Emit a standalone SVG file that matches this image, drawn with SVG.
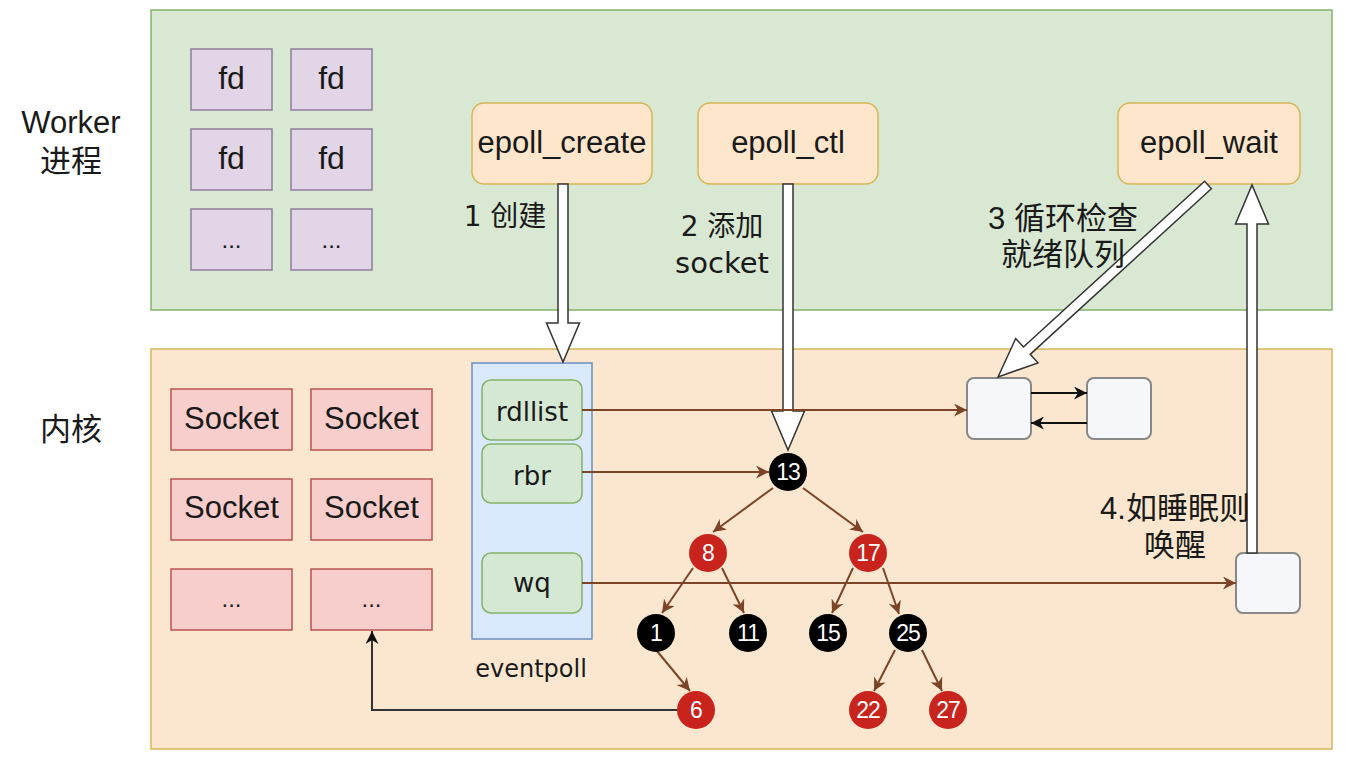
<svg xmlns="http://www.w3.org/2000/svg" width="1345" height="758" viewBox="0 0 1345 758">
<style>
.t{font-family:"Liberation Sans","Noto Sans CJK SC",sans-serif;fill:#1a1a1a;text-anchor:middle}
.c{font-family:"DejaVu Sans","Noto Sans CJK SC",sans-serif;fill:#1a1a1a;text-anchor:middle}
.fd{fill:#e1d5e7;stroke:#8f7d99;stroke-width:1.5}
.sk{fill:#f8cecc;stroke:#b85450;stroke-width:1.5}
.ep{fill:#fde6cb;stroke:#d6b656;stroke-width:1.5}
.gr{fill:#d5e8d4;stroke:#82b366;stroke-width:1.5}
.wb{fill:#f5f7fa;stroke:#888;stroke-width:2}
.rn{fill:#c8241d}
.bn{fill:#000}
.num{font-family:"Liberation Sans",sans-serif;font-size:23px;fill:#fff;text-anchor:middle;letter-spacing:-1px}
.br{stroke:#7b4427;stroke-width:2;fill:none}
.bk{stroke:#111;stroke-width:2;fill:none}
.fx{fill:#fff;stroke:#333;stroke-width:1.5}
</style>
<defs>
<marker id="ab" viewBox="0 0 10 10" refX="10" refY="5" markerWidth="13" markerHeight="13" markerUnits="userSpaceOnUse" orient="auto"><path d="M0,0 L10,5 L0,10 L3,5 Z" fill="#7b4427"/></marker>
<marker id="ak" viewBox="0 0 10 10" refX="10" refY="5" markerWidth="13" markerHeight="13" markerUnits="userSpaceOnUse" orient="auto"><path d="M0,0 L10,5 L0,10 L3,5 Z" fill="#111"/></marker>
</defs>
<rect width="1345" height="758" fill="#fff"/>

<g id="worker-area">
<rect x="151" y="10" width="1181" height="300" fill="#d9e8d3" stroke="#82b366" stroke-width="1.5"/>
<text class="t" x="71" y="133" font-size="31">Worker</text>
<text class="t" x="71" y="172" font-size="31">进程</text>
</g>
<g id="kernel-area">
<rect x="151" y="349" width="1181" height="400" fill="#fbe7cf" stroke="#d6b656" stroke-width="1.5"/>
<text class="t" x="71" y="440" font-size="31">内核</text>
</g>

<g id="fd-1"><rect class="fd" x="191" y="49" width="81" height="61"/><text class="t" x="231.5" y="89" font-size="32">fd</text></g>
<g id="fd-2"><rect class="fd" x="291" y="49" width="81" height="61"/><text class="t" x="331.5" y="89" font-size="32">fd</text></g>
<g id="fd-3"><rect class="fd" x="191" y="129" width="81" height="61"/><text class="t" x="231.5" y="169" font-size="32">fd</text></g>
<g id="fd-4"><rect class="fd" x="291" y="129" width="81" height="61"/><text class="t" x="331.5" y="169" font-size="32">fd</text></g>
<g id="fd-5"><rect class="fd" x="191" y="209" width="81" height="61"/><text class="t" x="231.5" y="248" font-size="24">...</text></g>
<g id="fd-6"><rect class="fd" x="291" y="209" width="81" height="61"/><text class="t" x="331.5" y="248" font-size="24">...</text></g>

<g id="epoll_create"><rect class="ep" x="472" y="103" width="180" height="81" rx="12"/><text class="t" x="562" y="153" font-size="31">epoll_create</text></g>
<g id="epoll_ctl"><rect class="ep" x="698" y="103" width="180" height="81" rx="12"/><text class="t" x="788" y="153" font-size="31">epoll_ctl</text></g>
<g id="epoll_wait"><rect class="ep" x="1118" y="103" width="182" height="81" rx="12"/><text class="t" x="1209" y="153" font-size="31">epoll_wait</text></g>

<g id="socket-1"><rect class="sk" x="171" y="389" width="121" height="61"/><text class="t" x="231.5" y="429" font-size="31">Socket</text></g>
<g id="socket-2"><rect class="sk" x="311" y="389" width="121" height="61"/><text class="t" x="371.5" y="429" font-size="31">Socket</text></g>
<g id="socket-3"><rect class="sk" x="171" y="479" width="121" height="61"/><text class="t" x="231.5" y="518" font-size="31">Socket</text></g>
<g id="socket-4"><rect class="sk" x="311" y="479" width="121" height="61"/><text class="t" x="371.5" y="518" font-size="31">Socket</text></g>
<g id="socket-5"><rect class="sk" x="171" y="569" width="121" height="61"/><text class="t" x="231.5" y="607" font-size="24">...</text></g>
<g id="socket-6"><rect class="sk" x="311" y="569" width="121" height="61"/><text class="t" x="371.5" y="607" font-size="24">...</text></g>

<g id="eventpoll">
<rect x="472" y="363" width="120" height="276" fill="#dae8fc" stroke="#6c8ebf" stroke-width="1.5"/>
<text class="c" x="531" y="677" font-size="24">eventpoll</text>
</g>
<g id="rdllist"><rect class="gr" x="482" y="380" width="100" height="60" rx="9"/><text class="c" x="532" y="421" font-size="26">rdllist</text></g>
<g id="rbr"><rect class="gr" x="482" y="444" width="100" height="59" rx="9"/><text class="c" x="532" y="485" font-size="26">rbr</text></g>
<g id="wq"><rect class="gr" x="482" y="553" width="100" height="60" rx="9"/><text class="c" x="532" y="592" font-size="26">wq</text></g>

<g id="ready-1"><rect class="wb" x="967" y="378" width="64" height="61" rx="7"/></g>
<g id="ready-2"><rect class="wb" x="1087" y="378" width="64" height="61" rx="7"/></g>
<g id="wait-entry"><rect class="wb" x="1236" y="553" width="64" height="60" rx="7"/></g>

<g id="connectors">
<path class="fx" d="M0,-5 H139 V-16.5 L178,0 L139,16.5 V5 H0 Z" transform="translate(563,184) rotate(90)"/>
<path class="fx" d="M0,-5 H227 V-16.5 L266,0 L227,16.5 V5 H0 Z" transform="translate(788,184) rotate(90)"/>
<path class="fx" d="M0,-5 H245.5 V-16.5 L284.5,0 L245.5,16.5 V5 H0 Z" transform="translate(1208,185) rotate(137.56)"/>
<path class="fx" d="M0,-5 H329 V-16.5 L368,0 L329,16.5 V5 H0 Z" transform="translate(1252,553) rotate(-90)"/>

<line class="br" x1="582" y1="410" x2="967" y2="410" marker-end="url(#ab)"/>
<line class="br" x1="582" y1="472" x2="769" y2="472" marker-end="url(#ab)"/>
<line class="br" x1="582" y1="583" x2="1236" y2="583" marker-end="url(#ab)"/>

<line class="bk" x1="1031" y1="393" x2="1087" y2="393" marker-end="url(#ak)"/>
<line class="bk" x1="1087" y1="423" x2="1031" y2="423" marker-end="url(#ak)"/>

<path class="br" d="M773,488 L713,532" marker-end="url(#ab)"/>
<path class="br" d="M803,488 L863,532" marker-end="url(#ab)"/>
<path class="br" d="M693,568 L662,613" marker-end="url(#ab)"/>
<path class="br" d="M722,568 L744,613" marker-end="url(#ab)"/>
<path class="br" d="M853,568 L832,613" marker-end="url(#ab)"/>
<path class="br" d="M883,568 L899,614" marker-end="url(#ab)"/>
<path class="br" d="M657,651 L690,691" marker-end="url(#ab)"/>
<path class="br" d="M895,650 L874,691" marker-end="url(#ab)"/>
<path class="br" d="M922,650 L942,691" marker-end="url(#ab)"/>

<path d="M677,710 H372 V631" fill="none" stroke="#333" stroke-width="2" marker-end="url(#ak)"/>

<text class="c" x="505" y="226" font-size="28">1 创建</text>
<text class="c" x="722" y="236" font-size="28">2 添加</text>
<text class="c" x="722" y="273" font-size="29">socket</text>
<text class="t" x="1063" y="229" font-size="31">3 循环检查</text>
<text class="t" x="1063" y="265" font-size="31">就绪队列</text>
<text class="t" x="1175" y="519" font-size="31">4.如睡眠则</text>
<text class="t" x="1175" y="556" font-size="31">唤醒</text>
</g>

<g id="node-13"><circle class="bn" cx="788" cy="472" r="19"/><text class="num" x="788" y="480">13</text></g>
<g id="node-8"><circle class="rn" cx="708" cy="553" r="19"/><text class="num" x="708" y="561">8</text></g>
<g id="node-17"><circle class="rn" cx="868" cy="553" r="19"/><text class="num" x="868" y="561">17</text></g>
<g id="node-1"><circle class="bn" cx="656" cy="633" r="19"/><text class="num" x="656" y="641">1</text></g>
<g id="node-11"><circle class="bn" cx="748" cy="633" r="19"/><text class="num" x="748" y="641">11</text></g>
<g id="node-15"><circle class="bn" cx="828" cy="633" r="19"/><text class="num" x="828" y="641">15</text></g>
<g id="node-25"><circle class="bn" cx="908" cy="633" r="19"/><text class="num" x="908" y="641">25</text></g>
<g id="node-6"><circle class="rn" cx="696" cy="710" r="19"/><text class="num" x="696" y="718">6</text></g>
<g id="node-22"><circle class="rn" cx="868" cy="710" r="19"/><text class="num" x="868" y="718">22</text></g>
<g id="node-27"><circle class="rn" cx="948" cy="710" r="19"/><text class="num" x="948" y="718">27</text></g>
</svg>
